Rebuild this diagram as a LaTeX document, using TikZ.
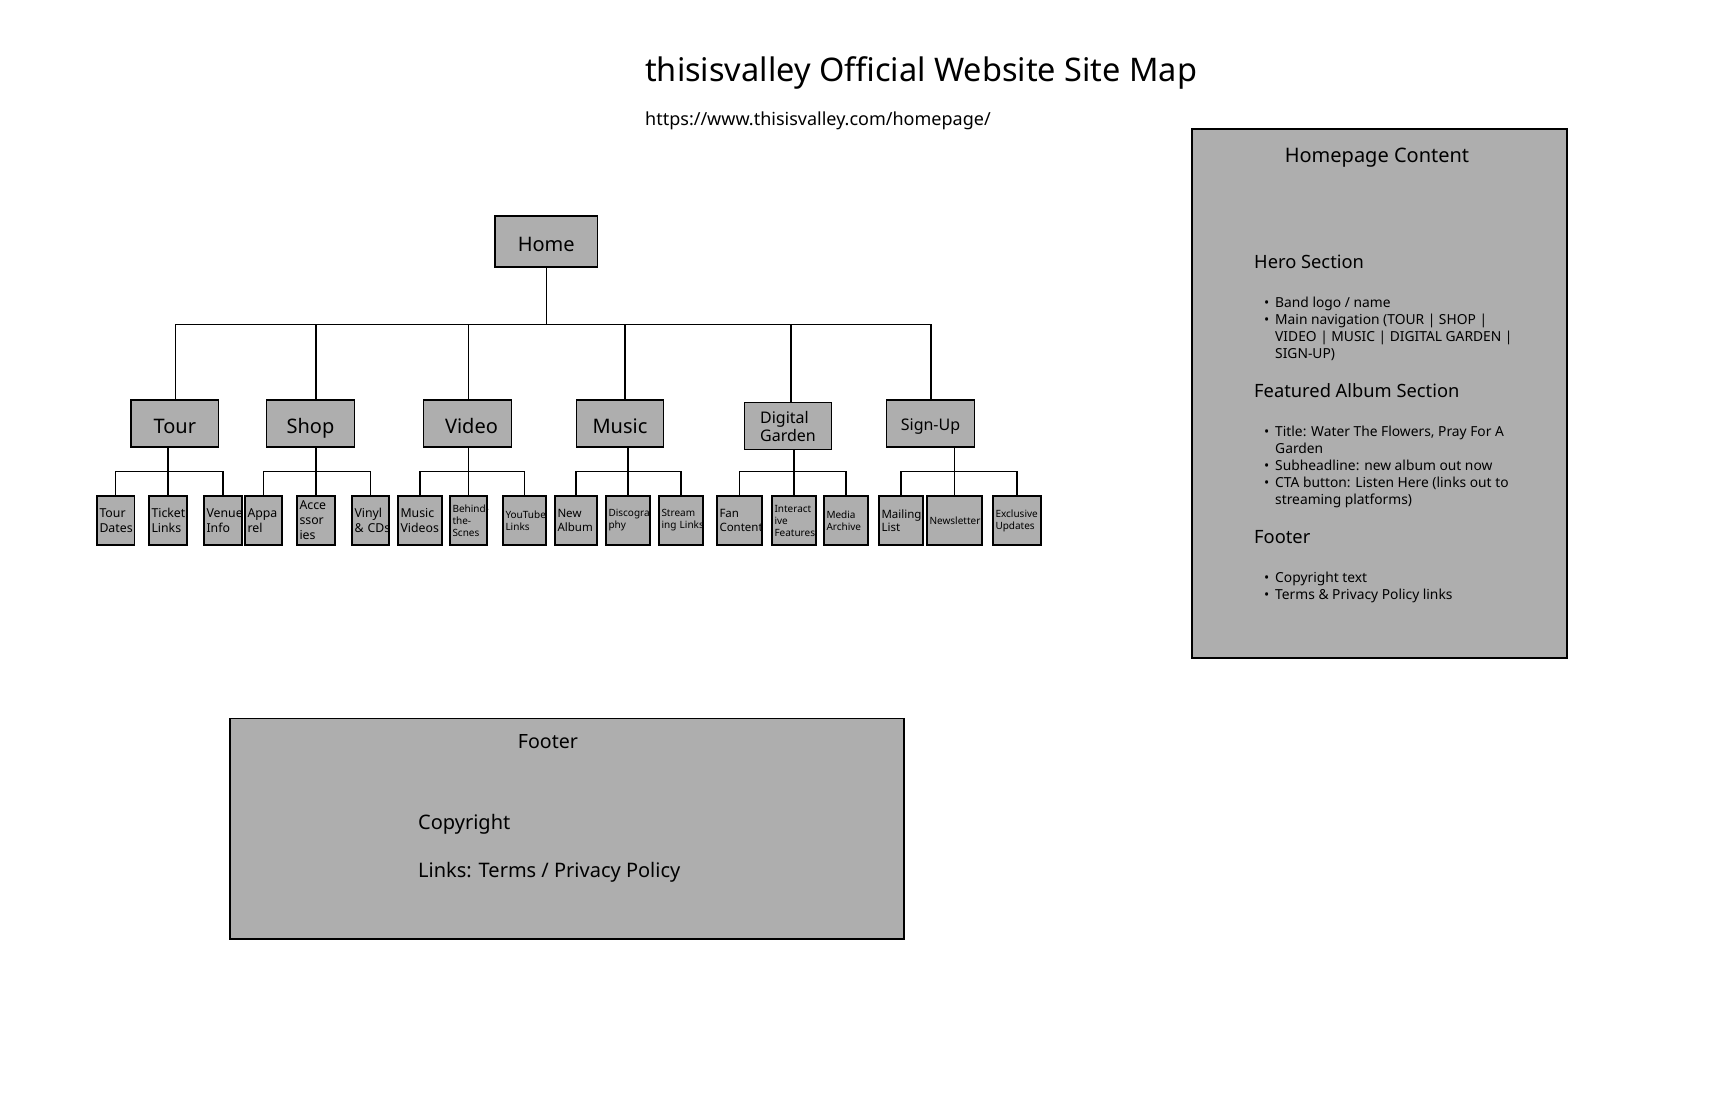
\documentclass[tikz,border=0pt]{standalone}
\usepackage{fontspec}
\setmainfont{Noto Sans}
\usepackage{xcolor}
\usepackage{tikz}

\definecolor{boxgray}{RGB}{174,174,174}
\hyphenpenalty=10000
\exhyphenpenalty=10000

\newcommand{\leafbig}{\fontsize{12.3}{15}\selectfont}
\newcommand{\leafmid}{\fontsize{11.5}{13.5}\selectfont}
\newcommand{\leafsmall}{\fontsize{10}{12}\selectfont}
\newcommand{\headfont}{\fontsize{18.3}{22}\selectfont}
\newcommand{\bulletfont}{\fontsize{13.8}{17}\selectfont}
\newcommand{\pbul}{\makebox[11pt][l]{\textbullet}}
\newcommand{\pind}{\hspace*{11pt}}

\tikzset{
    box/.style={draw=black, fill=boxgray, line width=1.2pt, inner sep=0pt},
    topbox/.style={box, minimum width=87.5pt, minimum height=47pt, font=\fontsize{20}{24}\selectfont},
    oneline/.style={text height=19pt, text depth=0pt},
    leaf/.style={box, minimum height=49pt, inner xsep=2.5pt, text width=#1, align=left},
    link/.style={draw=black, line width=1.2pt},
    txt/.style={inner sep=0pt, anchor=base west}
}

\begin{document}
\begin{tikzpicture}[x=1pt, y=-1pt]
        \useasboundingbox (0,0) rectangle (1728,1117);
        \fill[white] (0,0) rectangle (1728,1117);

        % Title and URL
        \node[txt, font=\fontsize{32.5}{39}\selectfont] (title) at (645,81.5) {thisisvalley Official Website Site Map};
        \node[txt, font=\fontsize{18}{22}\selectfont] (url) at (645,125.5) {https://www.thisisvalley.com/homepage/};

        % Home
        \node[topbox, oneline, minimum width=102.5pt, minimum height=51pt] (home) at (546.25,241.5) {Home};

        % Level 1 pages
        \node[topbox, oneline] (tour) at (174.8,423.5) {Tour};
        \node[topbox, oneline] (shop) at (310.5,423.5) {Shop};
        \node[topbox, oneline] (video) at (467.5,423.5) {\hspace*{8pt}Video};
        \node[topbox, oneline] (music) at (620,423.5) {Music};
        \node[topbox, font=\fontsize{16}{18}\selectfont, align=left] (garden) at (788,426) {Digital\\Garden};
        \node[topbox, font=\fontsize{16}{19}\selectfont, text height=13pt, text depth=0pt] (signup) at (930.5,423.5) {Sign-Up};

        % Home to level 1
        \coordinate (hub) at ([yshift=-57pt]home.south);
        \draw[link] (home.south) -- (hub);
        \foreach \n/\dx in {tour/1,shop/5.5,video/1,music/5,garden/3,signup/0.5}
            \draw[link] (hub) -| ([xshift=\dx pt]\n.north);

        % Level 2 pages
        \node[leaf=32.5pt, font=\leafbig] (tourdates) at (115.75,520.5) {Tour\\Dates};
        \node[leaf=33pt, font=\leafbig] (ticket) at (168,520.5) {Ticket\\Links};
        \node[leaf=33pt, font=\leafbig] (venue) at (223,520.5) {Venue\\Info};
        \node[leaf=32pt, font=\leafbig] (apparel) at (263.5,520.5) {Appa\\rel};
        \node[leaf=33pt, font=\leafbig] (access) at (316,520.5) {Acce\\ssor\\ies};
        \node[leaf=32pt, font=\leafbig] (vinyl) at (370.5,520.5) {Vinyl\\\&~CDs};
        \node[leaf=39pt, font=\leafbig] (musicvid) at (420,520.5) {Music\\Videos};
        \node[leaf=32pt, font=\leafsmall] (behind) at (468.5,520.5) {Behind-\\the-\\Scnes};
        \node[leaf=38pt, font=\leafsmall] (youtube) at (524.5,520.5) {YouTube\\Links};
        \node[leaf=37pt, font=\leafmid] (newalbum) at (576,520.5) {New\\Album};
        \node[leaf=39pt, font=\leafsmall] (discog) at (628,520.5) {Discogra\\phy};
        \node[leaf=39pt, font=\leafsmall] (stream) at (681,520.5) {Stream\\ing~Links};
        \node[leaf=40pt, font=\leafmid] (fan) at (739.5,520.5) {Fan\\Content};
        \node[leaf=39pt, font=\leafsmall] (interact) at (794,520.5) {Interact\\ive\\Features};
        \node[leaf=39pt, font=\leafsmall] (media) at (846,520.5) {Media\\Archive};
        \node[leaf=39pt, font=\leafmid] (mailing) at (901,520.5) {Mailing\\List};
        \node[leaf=50pt, font=\leafsmall] (newsletter) at (954.5,520.5) {Newsletter};
        \node[leaf=43pt, font=\leafsmall] (exclusive) at (1017,520.5) {Exclusive\\Updates};

        % Level 1 to level 2
        \foreach \p/\a/\b/\c in {tour/tourdates/ticket/venue, shop/apparel/access/vinyl, video/musicvid/behind/youtube, music/newalbum/discog/stream, garden/fan/interact/media, signup/mailing/newsletter/exclusive} {
            \draw[link] (\a.north) -- ++(0,-24) -| (\c.north);
            \draw[link] (\p.south -| \b.north) -- (\b.north);
        }

        % Homepage content panel (list nodes sit on their last baseline)
        \node[box, minimum width=375pt, minimum height=529pt] (panel) at (1379.5,393.5) {};
        \node[txt, anchor=base, font=\fontsize{20}{24}\selectfont] (paneltitle) at (1377,162) {Homepage Content};
        \node[txt, font=\headfont] (hero) at (1254,268) {Hero Section};
        \node[txt, font=\bulletfont, align=left] (herolist) at (1264,358) {\pbul Band logo / name\\\pbul Main navigation (TOUR | SHOP |\\\pind VIDEO | MUSIC | DIGITAL GARDEN |\\\pind SIGN-UP)};
        \node[txt, font=\headfont] (album) at (1254,397) {Featured Album Section};
        \node[txt, font=\bulletfont, align=left] (albumlist) at (1264,504) {\pbul Title: Water The Flowers, Pray For A\\\pind Garden\\\pbul Subheadline: new album out now\\\pbul CTA button: Listen Here (links out to\\\pind streaming platforms)};
        \node[txt, font=\headfont] (pfooter) at (1254,543) {Footer};
        \node[txt, font=\bulletfont, align=left] (pfooterlist) at (1264,599) {\pbul Copyright text\\\pbul Terms \& Privacy Policy links};

        % Footer box
        \node[box, minimum width=674pt, minimum height=220.5pt] (footbox) at (567,828.75) {};
        \node[txt, anchor=base, font=\fontsize{19.6}{24}\selectfont] (foottitle) at (548,748) {Footer};
        \node[txt, font=\fontsize{20}{24}\selectfont] (copyright) at (418,829) {Copyright};
        \node[txt, font=\fontsize{20}{24}\selectfont] (links) at (418,877) {Links: Terms / Privacy Policy};
    \end{tikzpicture}
\end{document}
